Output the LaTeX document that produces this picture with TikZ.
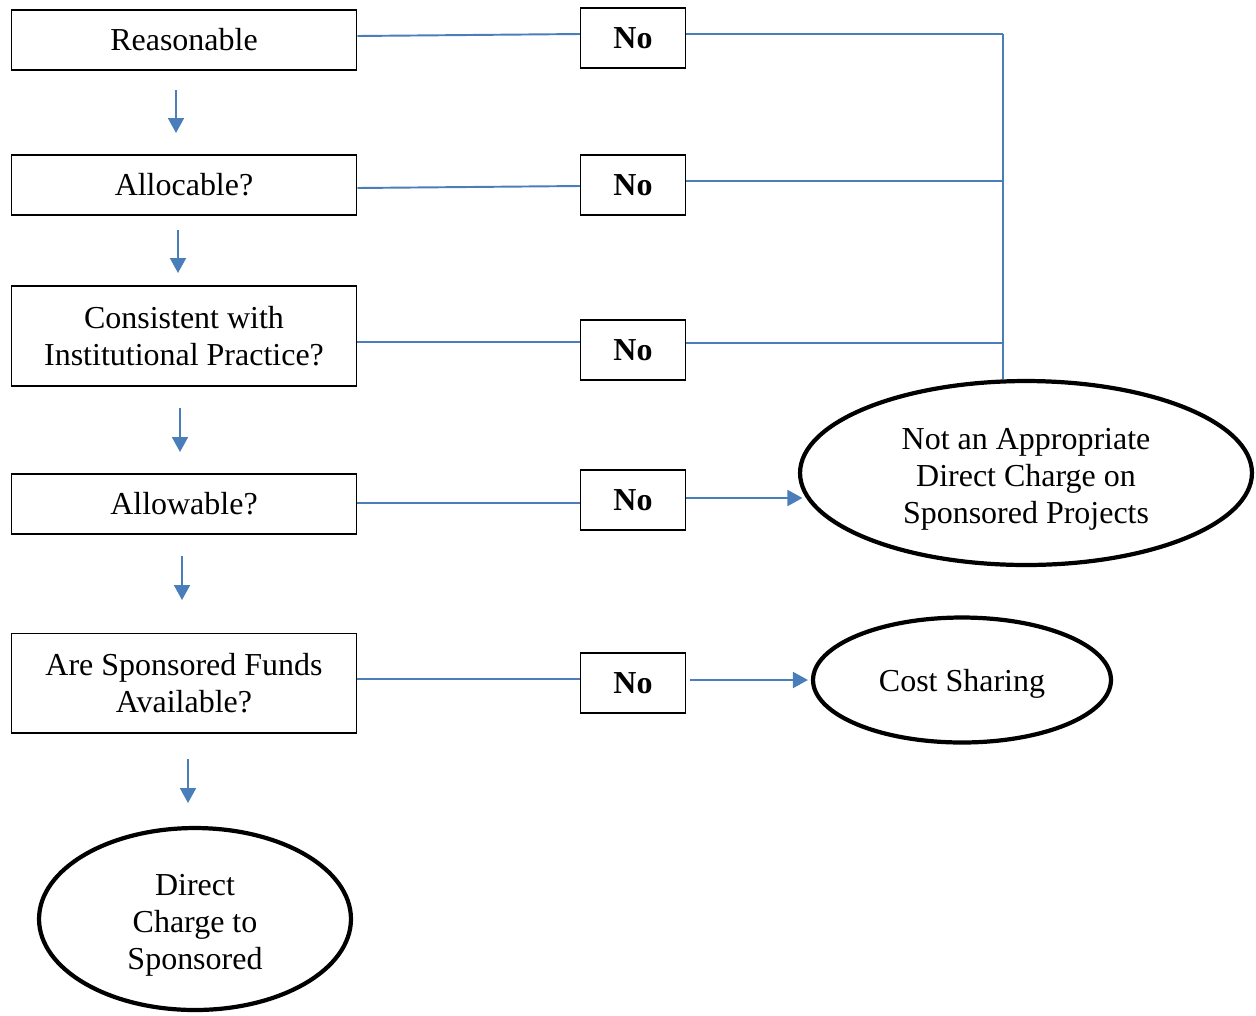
\documentclass[tikz,border=0pt]{standalone}
\usepackage{fontspec}
\setmainfont{Liberation Serif}
\usepackage{tikz}
\usetikzlibrary{arrows.meta,positioning,shapes.geometric}
\definecolor{lineblue}{HTML}{4A7EBB}
\newcommand{\topstrut}{\rule{0pt}{19pt}}

\begin{document}
\begin{tikzpicture}[
    x=0.02cm, y=-0.02cm,
    every node/.style={font=\fontsize{18.2}{21}\selectfont},
    boxq/.style={draw, minimum width=6.92cm, minimum height=1.2cm, align=center, line width=0.6pt},
    nobox/.style={draw, minimum width=2.1cm, minimum height=1.2cm, font=\fontsize{18.2}{21}\selectfont\bfseries, line width=0.6pt},
    endoval/.style={draw, ellipse, line width=2.4pt, inner sep=0pt, align=center},
    linkline/.style={draw=lineblue, line width=1.1pt},
    arrstyle/.style={linkline, -{Triangle[length=0.3cm, width=0.32cm]}}
]
\useasboundingbox (0,0) rectangle (1256,1015);

% Questions on the left
\node[boxq] (reas) at (184,40) {Reasonable};
\node[boxq] (alloc) at (184,185) {Allocable?};
\node[boxq, minimum height=2cm] (cons) at (184,336) {Consistent with\\Institutional Practice?};
\node[boxq] (allow) at (184,504) {Allowable?};
\node[boxq, minimum height=2cm] (funds) at (184,683) {Are Sponsored Funds\\Available?};
\node[endoval, minimum width=6.24cm, minimum height=3.64cm] (direct) at (195,919) {\topstrut Direct\\Charge to\\Sponsored};

% No answers
\node[nobox] (no1) at (633,38) {No};
\node[nobox] (no2) at (633,185) {No};
\node[nobox] (no3) at (633,350) {No};
\node[nobox] (no4) at (633,500) {No};
\node[nobox] (no5) at (633,683) {No};

% Outcomes on the right
\node[endoval, minimum width=9.04cm, minimum height=3.68cm] (notapp) at (1026,473) {\topstrut Not an Appropriate\\Direct Charge on\\Sponsored Projects};
\node[endoval, minimum width=5.96cm, minimum height=2.5cm] (costsh) at (962,680) {\rule{0pt}{17pt}Cost Sharing};

% Down arrows between questions
\coordinate (d1a) at (176,90);  \coordinate (d1b) at (176,133);
\coordinate (d2a) at (178,230); \coordinate (d2b) at (178,273);
\coordinate (d3a) at (180,408); \coordinate (d3b) at (180,452);
\coordinate (d4a) at (182,556); \coordinate (d4b) at (182,600);
\coordinate (d5a) at (188,759); \coordinate (d5b) at (188,803);
\draw[arrstyle] (d1a) -- (d1b);
\draw[arrstyle] (d2a) -- (d2b);
\draw[arrstyle] (d3a) -- (d3b);
\draw[arrstyle] (d4a) -- (d4b);
\draw[arrstyle] (d5a) -- (d5b);

% Questions to No
\draw[linkline] (reas.east |- 0,36) -- (no1.west |- 0,34);
\draw[linkline] (alloc.east |- 0,188) -- (no2.west |- 0,186);
\draw[linkline] (cons.east |- 0,342) -- (no3.west |- 0,342);
\draw[linkline] (allow.east |- 0,503) -- (no4.west |- 0,503);
\draw[linkline] (funds.east |- 0,679) -- (no5.west |- 0,679);

% No to outcomes
\coordinate (bus) at (1003,34);
\draw[linkline] (no1.east |- bus) -- (bus);
\draw[linkline] (no2.east |- 0,181) -- (bus |- 0,181);
\draw[linkline] (no3.east |- 0,343) -- (bus |- 0,343);
\draw[linkline] (bus) -- (bus |- notapp.north);
\draw[arrstyle, shorten >=0.1cm] (no4.east |- 0,498) -- (notapp.187 |- 0,498);
\draw[arrstyle, shorten <=0.08cm, shorten >=0.06cm] (no5.east |- 0,680) -- (costsh.west);
\end{tikzpicture}
\end{document}
